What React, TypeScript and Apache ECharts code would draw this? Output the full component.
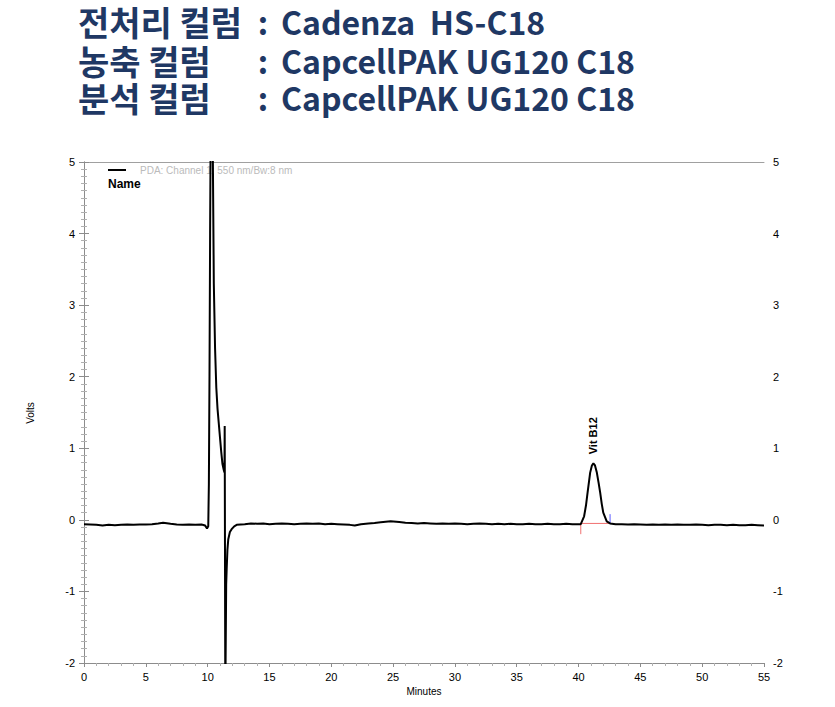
import React, { useEffect, useRef } from "react";
import * as echarts from "echarts";

// ---- data (minutes, volts) ----
const times: number[] = [
  0, 0.5, 1, 1.5, 2, 2.5, 3, 3.5, 4, 4.5, 5, 5.5, 6, 6.4, 7, 7.5, 8, 8.5, 9, 9.5, 9.8, 9.95,
  10.05, 10.1, 10.15, 10.2, 10.25, 10.35, 10.42, 10.5, 10.6, 10.7, 10.8, 10.9, 11.0, 11.1, 11.2, 11.3, 11.36,
  11.38, 11.41, 11.43, 11.47, 11.5, 11.54, 11.6, 11.67, 11.8, 11.94, 12.15, 12.35, 13, 13.5, 14, 14.5,
  15, 15.5, 16, 16.5, 17, 17.5, 18, 18.5, 19, 19.5, 20, 20.5, 21, 21.5, 21.9, 22.4, 23, 23.5, 24, 24.8,
  25.5, 26, 26.5, 27, 27.5, 28, 28.5, 29, 29.5, 30, 30.5, 31, 31.5, 32, 32.5, 33, 33.5, 34, 34.5, 35,
  35.5, 36, 36.5, 37, 37.5, 38, 38.5, 39, 39.5, 40, 40.18, 40.45, 40.6, 40.73, 40.94, 41.08, 41.2, 41.33,
  41.48, 41.62, 41.75, 41.88, 42.0, 42.28, 42.55, 43, 43.5, 44, 44.5, 45, 45.5, 46, 46.5, 47, 47.5, 48,
  48.5, 49, 49.5, 50, 50.5, 51, 51.5, 52, 52.5, 53, 53.5, 54, 54.5, 55,
];
const volts: number[] = [
  -0.06, -0.065, -0.07, -0.08, -0.07, -0.075, -0.07, -0.065, -0.07, -0.065, -0.065, -0.06, -0.05, -0.04, -0.055, -0.065, -0.07, -0.065, -0.07, -0.065, -0.08, -0.12,
  -0.09, 0.5, 2.0, 4.0, 5.6, 6.0, 5.1, 3.3, 2.4, 1.85, 1.55, 1.35, 1.15, 0.95, 0.78, 0.7, 0.66,
  1.31, 1.31, -2.5, -2.5, -0.9, -0.69, -0.42, -0.27, -0.17, -0.13, -0.09, -0.07, -0.06, -0.05, -0.055, -0.05,
  -0.06, -0.055, -0.05, -0.055, -0.06, -0.055, -0.05, -0.055, -0.05, -0.06, -0.055, -0.06, -0.065, -0.07, -0.08, -0.06, -0.05, -0.045, -0.035, -0.02,
  -0.03, -0.04, -0.045, -0.05, -0.045, -0.05, -0.055, -0.05, -0.055, -0.05, -0.055, -0.06, -0.055, -0.05, -0.055, -0.06, -0.055, -0.06, -0.055, -0.06,
  -0.06, -0.055, -0.06, -0.06, -0.055, -0.06, -0.06, -0.055, -0.06, -0.06, -0.06, 0.05, 0.2, 0.38, 0.66, 0.76, 0.79, 0.76,
  0.66, 0.52, 0.38, 0.22, 0.1, -0.02, -0.05, -0.06, -0.06, -0.065, -0.06, -0.065, -0.07, -0.065, -0.07, -0.065, -0.07, -0.065,
  -0.07, -0.07, -0.065, -0.07, -0.075, -0.07, -0.07, -0.075, -0.07, -0.075, -0.075, -0.07, -0.075, -0.08,
];

const peakName = "Vit B12";
const peakTime = 41.2;
const peakHeight = 0.79;
const integrationStart = 40.18;
const integrationEnd = 42.55;
const integrationBase = -0.05;
const startTickLow = -0.2;
const endTickHigh = 0.08;

const xTicks = { min: 0, max: 55, interval: 5 };
const yTicks = { min: -2, max: 5, interval: 1 };

const titleLabels = ["전처리 컬럼", "농축 컬럼", "분석 컬럼"];
const titleValues = ["Cadenza  HS-C18", "CapcellPAK UG120 C18", "CapcellPAK UG120 C18"];
const legendText = "PDA: Channel 1: 550 nm/Bw:8 nm";
const legendName = "Name";

export default function App() {
  const ref = useRef<HTMLDivElement>(null);
  useEffect(() => {
    document.body.style.margin = "0";
    const chart = echarts.init(ref.current!, undefined, { renderer: "svg" });
    const narrow = '"Liberation Sans Narrow", "Liberation Sans", Arial, sans-serif';
    const titleFont = '"Noto Sans CJK KR", "Noto Sans", sans-serif';
    const titleColor = "#1f3864";
    const titleY = [21, 60, 97];
    const graphics: any[] = [];
    titleLabels.forEach((t, i) => {
      graphics.push({ type: "text", x: 78, y: titleY[i], style: { text: t, font: `bold 34px ${titleFont}`, lineHeight: 34, fill: titleColor, verticalAlign: "middle" } });
      graphics.push({ type: "text", x: 263, y: titleY[i], style: { text: ":", font: `bold 32px ${titleFont}`, lineHeight: 32, fill: titleColor, verticalAlign: "middle", align: "center" } });
      graphics.push({ type: "text", x: 281, y: titleY[i], style: { text: titleValues[i], font: `bold 32px ${titleFont}`, lineHeight: 32, fill: titleColor, verticalAlign: "middle" } });
    });
    graphics.push({ type: "line", shape: { x1: 108, y1: 170, x2: 126, y2: 170 }, style: { stroke: "#000", lineWidth: 2 } });
    graphics.push({ type: "text", x: 140, y: 170, style: { text: legendText, font: `10px Arial, "Liberation Sans", sans-serif`, fill: "#bbbbbb", verticalAlign: "middle" } });
    graphics.push({ type: "text", x: 108, y: 184, style: { text: legendName, font: `bold 12px Arial, "Liberation Sans", sans-serif`, fill: "#000", verticalAlign: "middle" } });
    graphics.push({ type: "text", x: 30, y: 413, rotation: Math.PI / 2, style: { text: "Volts", font: `10px ${narrow}`, fill: "#000", align: "center", verticalAlign: "middle" } });
    graphics.push({ type: "text", x: 424, y: 691, style: { text: "Minutes", font: `10px ${narrow}`, fill: "#000", align: "center", verticalAlign: "middle" } });

    const axisGray = "#8c8c8c";
    const labelStyle = { color: "#000", fontSize: 11, fontFamily: narrow };
    const yCommon = {
      type: "value",
      min: yTicks.min,
      max: yTicks.max,
      interval: yTicks.interval,
      splitLine: { show: false },
      axisLine: { show: true, lineStyle: { color: axisGray } },
      axisTick: { show: true, length: 5, lineStyle: { color: axisGray } },
      minorTick: { show: true, splitNumber: 10, length: 3, lineStyle: { color: "#b0b0b0" } },
      axisLabel: { ...labelStyle, margin: 9 },
    };

    chart.setOption({
      animation: false,
      graphic: graphics,
      grid: { left: 84, right: 71, top: 162, bottom: 44, containLabel: false },
      xAxis: [
        {
          type: "value",
          min: xTicks.min,
          max: xTicks.max,
          interval: xTicks.interval,
          splitLine: { show: false },
          axisLine: { show: true, onZero: false, lineStyle: { color: axisGray } },
          axisTick: { show: true, length: 4, lineStyle: { color: axisGray } },
          minorTick: { show: true, splitNumber: 5, length: 3, lineStyle: { color: "#b0b0b0" } },
          axisLabel: { ...labelStyle, margin: 8 },
        },
        {
          type: "value",
          position: "top",
          min: xTicks.min,
          max: xTicks.max,
          axisLine: { show: true, onZero: false, lineStyle: { color: "#a0a0a0" } },
          axisTick: { show: false },
          axisLabel: { show: false },
          splitLine: { show: false },
        },
      ],
      yAxis: [
        { ...yCommon, position: "left" },
        { ...yCommon, position: "right" },
      ],
      series: [
        {
          type: "line",
          data: times.map((t, i) => [t, volts[i]]),
          showSymbol: false,
          symbol: "none",
          clip: true,
          lineStyle: { color: "#000", width: 2 },
          z: 3,
          markPoint: {
            symbol: "circle",
            symbolSize: 0,
            data: [{ coord: [peakTime, peakHeight] }],
            label: {
              show: true,
              formatter: peakName,
              position: "top",
              distance: 9,
              rotate: 90,
              align: "left",
              verticalAlign: "middle",
              fontSize: 11,
              fontWeight: "bold",
              fontFamily: 'Arial, "Liberation Sans", sans-serif',
              color: "#000",
            },
          },
        },
        {
          type: "line",
          data: [
            [integrationStart, startTickLow],
            [integrationStart, integrationBase],
            [integrationEnd, integrationBase],
          ],
          showSymbol: false,
          symbol: "none",
          lineStyle: { color: "#f07070", width: 1 },
          z: 2,
        },
        {
          type: "line",
          data: [
            [integrationEnd, endTickHigh],
            [integrationEnd, integrationBase],
          ],
          showSymbol: false,
          symbol: "none",
          lineStyle: { color: "#5a5aff", width: 1 },
          z: 2,
        },
      ],
    });
    return () => chart.dispose();
  }, []);
  return <div ref={ref} style={{ width: 835, height: 707 }} />;
}
